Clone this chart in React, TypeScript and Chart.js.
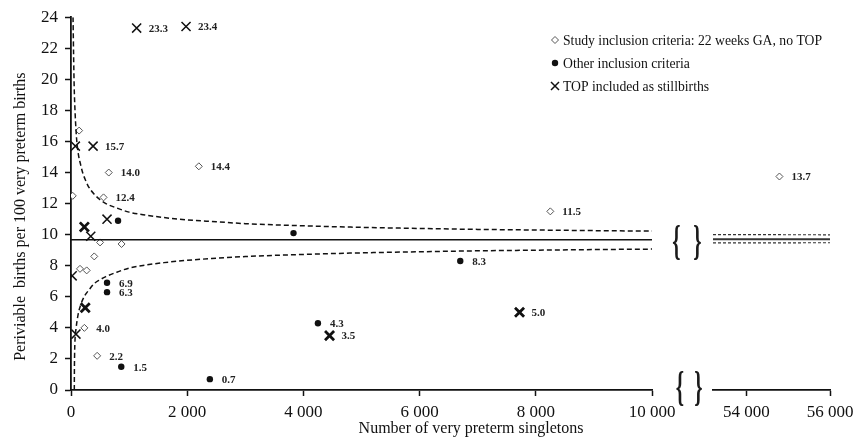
import React, { useEffect, useRef } from 'react';
import { Chart, registerables } from 'chart.js';

Chart.register(...registerables);

const FONT = "'Liberation Serif', 'Times New Roman', Times, serif";

const Y_TITLE = 'Periviable  births per 100 very preterm births';
const X_TITLE = 'Number of very preterm singletons';
const LEGEND_TEXTS = [
  'Study inclusion criteria: 22 weeks GA, no TOP',
  'Other inclusion criteria',
  'TOP included as stillbirths',
];

// Study inclusion criteria (open diamonds)
const studyX = [140, 30, 560, 650, 2200, 500, 870, 400, 155, 270, 230, 450, 8250];
const studyY = [16.7, 12.5, 12.4, 14.0, 14.4, 9.5, 9.4, 8.6, 7.8, 7.7, 4.0, 2.2, 11.5];
const studyLabels = ['', '', '12.4', '14.0', '14.4', '', '', '', '', '', '4.0', '2.2', '11.5'];

// Other inclusion criteria (filled dots)
const otherX = [810, 3830, 620, 620, 865, 2390, 6700, 4250];
const otherY = [10.9, 10.1, 6.9, 6.3, 1.5, 0.7, 8.3, 4.3];
const otherLabels = ['', '', '6.9', '6.3', '1.5', '0.7', '8.3', '4.3'];

// TOP included as stillbirths (crosses)
const topX = [1130, 1980, 75, 380, 620, 340, 20, 85];
const topY = [23.3, 23.4, 15.7, 15.7, 11.0, 9.9, 7.35, 3.6];
const topLabels = ['23.3', '23.4', '', '15.7', '', '', '', ''];

// TOP included, other inclusion criteria (bold crosses)
const topOtherX = [230, 245, 4450, 7720];
const topOtherY = [10.5, 5.3, 3.5, 5.0];
const topOtherLabels = ['', '', '3.5', '5.0'];

// Right (broken) segment
const rightStudyX = [54790];
const rightStudyY = [13.7];
const rightStudyLabels = ['13.7'];

// Pooled proportion and 95% control limits
const pooledMean = 9.68;
const upperX = [35, 45, 55, 70, 85, 100, 130, 160, 200, 250, 300, 400, 500, 600, 800, 1000, 1300, 1600, 2000, 2500, 3000, 4000, 5000, 6000, 7000, 8000, 9000, 10000];
const upperY = [24, 21.5, 19.5, 17.9, 16.8, 16.0, 15.1, 14.6, 14.0, 13.5, 13.1, 12.6, 12.25, 12.0, 11.7, 11.45, 11.25, 11.1, 10.95, 10.83, 10.71, 10.57, 10.47, 10.4, 10.34, 10.3, 10.26, 10.23];
const lowerX = [57, 58, 62, 70, 85, 100, 130, 160, 200, 250, 300, 400, 500, 600, 800, 1000, 1300, 1600, 2000, 2500, 3000, 4000, 5000, 6000, 7000, 8000, 9000, 10000];
const lowerY = [0, 1.0, 2.3, 3.3, 3.9, 4.35, 5.0, 5.4, 5.8, 6.15, 6.4, 6.85, 7.1, 7.3, 7.6, 7.85, 8.05, 8.2, 8.35, 8.48, 8.59, 8.73, 8.83, 8.9, 8.96, 9.0, 9.04, 9.07];
const rightLineX = [53200, 56000];
const rightUpperY = [9.97, 9.96];
const rightLowerY = [9.44, 9.45];

const leftXTicks = [0, 2000, 4000, 6000, 8000, 10000];
const rightXTicks = [54000, 56000];

const pts = (xs: number[], ys: number[]) => xs.map((x, i) => ({ x, y: ys[i] }));
const fmt = (v: number) => (v === 0 ? '0' : String(v).replace(/\B(?=(\d{3})+(?!\d))/g, ' '));

const INK = '#111';

const labelPlugin = {
  id: 'pointLabels',
  afterDatasetsDraw(chart: any) {
    const ctx = chart.ctx;
    ctx.save();
    ctx.font = `bold 11px ${FONT}`;
    ctx.fillStyle = '#222';
    ctx.textAlign = 'left';
    ctx.textBaseline = 'middle';
    chart.data.datasets.forEach((ds: any, i: number) => {
      const labels = ds.pointLabels;
      if (!labels) return;
      const meta = chart.getDatasetMeta(i);
      meta.data.forEach((el: any, j: number) => {
        const t = labels[j];
        if (t) ctx.fillText(t, el.x + 12, el.y + 1);
      });
    });
    ctx.restore();
  },
};

function drawMarker(ctx: CanvasRenderingContext2D, type: string, x: number, y: number) {
  ctx.save();
  if (type === 'diamond') {
    ctx.strokeStyle = '#555';
    ctx.lineWidth = 1;
    ctx.beginPath();
    ctx.moveTo(x, y - 3.5);
    ctx.lineTo(x + 3.5, y);
    ctx.lineTo(x, y + 3.5);
    ctx.lineTo(x - 3.5, y);
    ctx.closePath();
    ctx.stroke();
  } else if (type === 'dot') {
    ctx.fillStyle = INK;
    ctx.beginPath();
    ctx.arc(x, y, 3.2, 0, Math.PI * 2);
    ctx.fill();
  } else {
    ctx.strokeStyle = INK;
    ctx.lineWidth = 1.5;
    ctx.beginPath();
    ctx.moveTo(x - 4, y - 4);
    ctx.lineTo(x + 4, y + 4);
    ctx.moveTo(x + 4, y - 4);
    ctx.lineTo(x - 4, y + 4);
    ctx.stroke();
  }
  ctx.restore();
}

function drawBrace(ctx: CanvasRenderingContext2D, ch: string, cx: number, cy: number) {
  ctx.save();
  ctx.translate(cx, cy);
  ctx.scale(0.62, 1.25);
  ctx.font = `bold 34px ${FONT}`;
  ctx.textAlign = 'center';
  ctx.textBaseline = 'alphabetic';
  ctx.fillStyle = '#1a1a1a';
  ctx.fillText(ch, 0, 8.5);
  ctx.restore();
}

const leftDecor = {
  id: 'leftDecor',
  afterDraw(chart: any) {
    const { ctx, chartArea, scales } = chart;
    ctx.save();
    ctx.fillStyle = INK;
    ctx.font = `16px ${FONT}`;
    ctx.textAlign = 'center';
    ctx.textBaseline = 'middle';
    // Y title
    ctx.save();
    ctx.translate(21, (chartArea.top + chartArea.bottom) / 2 + 13);
    ctx.rotate(-Math.PI / 2);
    ctx.fillText(Y_TITLE, 0, 0);
    ctx.restore();
    // X title
    ctx.fillText(X_TITLE, 471, 429);

    // Legend
    const types = ['diamond', 'dot', 'cross'];
    ctx.font = `13.7px ${FONT}`;
    ctx.textAlign = 'left';
    LEGEND_TEXTS.forEach((t, i) => {
      const y = 40 + i * 23;
      drawMarker(ctx, types[i], 555, y);
      ctx.fillStyle = INK;
      ctx.fillText(t, 563, y + 1);
    });
    ctx.restore();

    // Axis-break braces
    const ym = scales.y.getPixelForValue(pooledMean);
    const yb = chartArea.bottom;
    const r = chartArea.right;
    drawBrace(ctx, '{', r + 24.5, ym + 3.5);
    drawBrace(ctx, '}', r + 45.5, ym + 3.5);
    drawBrace(ctx, '{', r + 28, yb - 1);
    drawBrace(ctx, '}', r + 46.5, yb - 1);
  },
};

const axisCommon = {
  grid: { display: true, drawOnChartArea: false, drawTicks: true, tickLength: 6, tickColor: INK, tickWidth: 1.5 },
  border: { display: true, color: INK, width: 1.8 },
};

export default function App() {
  const leftRef = useRef<HTMLCanvasElement>(null);
  const rightRef = useRef<HTMLCanvasElement>(null);

  useEffect(() => {
    const left = new Chart(leftRef.current as HTMLCanvasElement, {
      type: 'scatter',
      data: {
        datasets: [
          {
            label: 'upper',
            data: pts(upperX, upperY),
            showLine: true,
            borderColor: INK,
            borderWidth: 1.5,
            borderDash: [5, 3],
            pointRadius: 0,
            cubicInterpolationMode: 'monotone',
          },
          {
            label: 'lower',
            data: pts(lowerX, lowerY),
            showLine: true,
            borderColor: INK,
            borderWidth: 1.5,
            borderDash: [5, 3],
            pointRadius: 0,
            cubicInterpolationMode: 'monotone',
          },
          {
            label: 'mean',
            data: pts([0, 10000], [pooledMean, pooledMean]),
            showLine: true,
            borderColor: INK,
            borderWidth: 1.5,
            pointRadius: 0,
          },
          {
            label: LEGEND_TEXTS[0],
            data: pts(studyX, studyY),
            pointStyle: 'rectRot',
            pointRadius: 3.5,
            backgroundColor: '#fff',
            borderColor: '#555',
            borderWidth: 1,
            pointLabels: studyLabels,
          } as any,
          {
            label: LEGEND_TEXTS[1],
            data: pts(otherX, otherY),
            pointStyle: 'circle',
            pointRadius: 3.2,
            backgroundColor: INK,
            borderColor: INK,
            borderWidth: 0,
            pointLabels: otherLabels,
          } as any,
          {
            label: LEGEND_TEXTS[2],
            data: pts(topX, topY),
            pointStyle: 'crossRot',
            pointRadius: 6.4,
            borderColor: INK,
            borderWidth: 1.5,
            pointLabels: topLabels,
          } as any,
          {
            label: 'TOP, other criteria',
            data: pts(topOtherX, topOtherY),
            pointStyle: 'crossRot',
            pointRadius: 6.4,
            borderColor: INK,
            borderWidth: 2.8,
            pointLabels: topOtherLabels,
          } as any,
        ],
      },
      options: {
        responsive: false,
        animation: false,
        layout: { padding: { left: 0, right: 202, top: 16, bottom: 17 } },
        plugins: { legend: { display: false }, tooltip: { enabled: false } },
        scales: {
          x: {
            type: 'linear',
            min: 0,
            max: 10000,
            afterBuildTicks: (s: any) => {
              s.ticks = leftXTicks.map((v) => ({ value: v }));
            },
            afterFit: (s: any) => {
              s.height = 40;
            },
            ticks: { font: { family: FONT, size: 17 }, color: INK, padding: 6, maxRotation: 0, callback: (v: any) => fmt(Number(v)) },
            ...axisCommon,
          },
          y: {
            type: 'linear',
            min: 0,
            max: 24,
            afterFit: (s: any) => {
              s.width = 71;
            },
            ticks: { stepSize: 2, font: { family: FONT, size: 17 }, color: INK, padding: 7 },
            ...axisCommon,
          },
        },
      } as any,
      plugins: [labelPlugin, leftDecor],
    });

    const right = new Chart(rightRef.current as HTMLCanvasElement, {
      type: 'scatter',
      data: {
        datasets: [
          {
            label: 'upper',
            data: pts(rightLineX, rightUpperY),
            showLine: true,
            borderColor: '#333',
            borderWidth: 1.2,
            borderDash: [3, 2],
            pointRadius: 0,
          },
          {
            label: 'lower',
            data: pts(rightLineX, rightLowerY),
            showLine: true,
            borderColor: '#333',
            borderWidth: 1.2,
            borderDash: [3, 2],
            pointRadius: 0,
          },
          {
            label: 'mean',
            data: pts(rightLineX, [pooledMean, pooledMean]),
            showLine: true,
            borderColor: '#333',
            borderWidth: 2,
            pointRadius: 0,
          },
          {
            label: LEGEND_TEXTS[0],
            data: pts(rightStudyX, rightStudyY),
            pointStyle: 'rectRot',
            pointRadius: 3.5,
            backgroundColor: '#fff',
            borderColor: '#555',
            borderWidth: 1,
            pointLabels: rightStudyLabels,
          } as any,
        ],
      },
      options: {
        responsive: false,
        animation: false,
        layout: { padding: { left: 13, right: 40, top: 16, bottom: 17 } },
        plugins: { legend: { display: false }, tooltip: { enabled: false } },
        scales: {
          x: {
            type: 'linear',
            min: 53200,
            max: 56000,
            afterBuildTicks: (s: any) => {
              s.ticks = rightXTicks.map((v) => ({ value: v }));
            },
            afterFit: (s: any) => {
              s.height = 40;
            },
            ticks: { font: { family: FONT, size: 17 }, color: INK, padding: 6, maxRotation: 0, callback: (v: any) => fmt(Number(v)) },
            ...axisCommon,
          },
          y: { type: 'linear', min: 0, max: 24, display: false },
        },
      } as any,
      plugins: [labelPlugin],
    });

    return () => {
      left.destroy();
      right.destroy();
    };
  }, []);

  return (
    <div style={{ position: 'fixed', left: 0, top: 0, width: 854, height: 447, background: '#fff', overflow: 'hidden' }}>
      <canvas ref={leftRef} width={854} height={447} style={{ position: 'absolute', left: 0, top: 0, display: 'block' }} />
      <canvas ref={rightRef} width={170} height={447} style={{ position: 'absolute', left: 700, top: 0, display: 'block' }} />
    </div>
  );
}
